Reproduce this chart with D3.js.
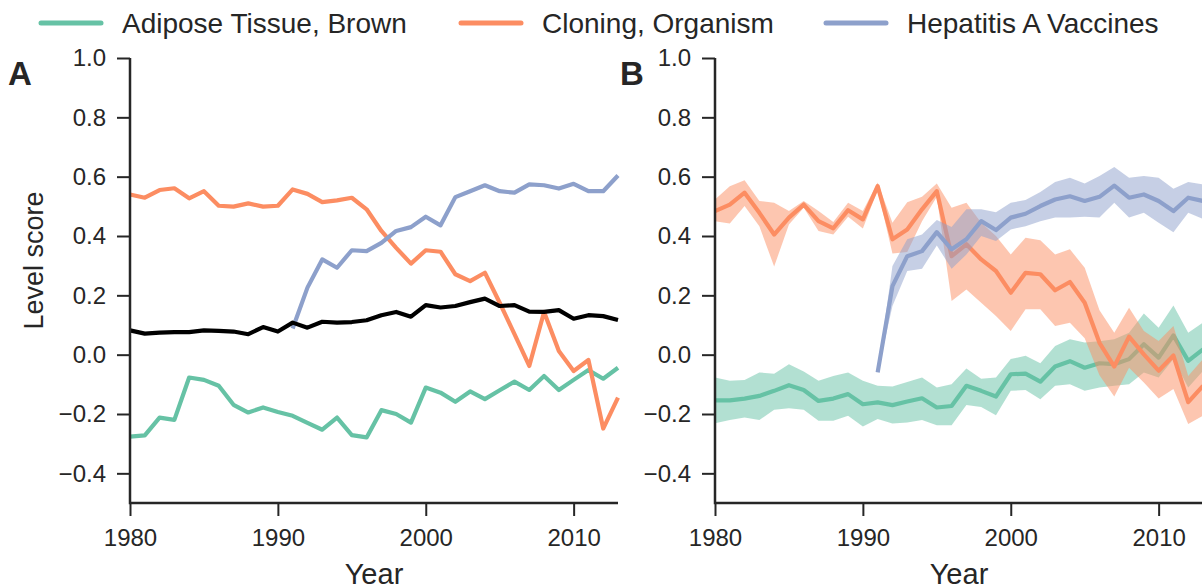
<!DOCTYPE html>
<html>
<head>
<meta charset="utf-8">
<script src="https://cdn.jsdelivr.net/npm/d3@7"></script>
<style>
  body { margin: 0; background: #fff; }
  svg { display: block; font-family: "Liberation Sans", Arial, sans-serif; }
</style>
</head>
<body>
<svg id="chart" width="1202" height="588"></svg>
<script>
// years on the x axis
const years = [1980,1981,1982,1983,1984,1985,1986,1987,1988,1989,1990,1991,1992,1993,1994,1995,1996,
               1997,1998,1999,2000,2001,2002,2003,2004,2005,2006,2007,2008,2009,2010,2011,2012,2013];
const yTicks = [-0.4, -0.2, 0.0, 0.2, 0.4, 0.6, 0.8, 1.0];
const xTicks = [1980, 1990, 2000, 2010];
const seriesNames = ["Adipose Tissue, Brown", "Cloning, Organism", "Hepatitis A Vaccines"];
const seriesColors = ["#66c2a5", "#fc8d62", "#8da0cb"];

// panel A
const adiposeA = [-0.276,-0.272,-0.212,-0.220,-0.077,-0.085,-0.105,-0.169,-0.195,-0.178,-0.193,-0.206,-0.230,-0.253,-0.212,-0.271,-0.279,
                  -0.187,-0.200,-0.229,-0.111,-0.128,-0.159,-0.124,-0.150,-0.120,-0.091,-0.119,-0.072,-0.119,-0.085,-0.052,-0.081,-0.044];
const cloningA = [0.540,0.529,0.555,0.561,0.527,0.551,0.502,0.499,0.510,0.499,0.502,0.557,0.542,0.514,0.520,0.529,0.490,
                  0.417,0.360,0.307,0.352,0.347,0.271,0.248,0.276,0.175,0.069,-0.038,0.144,0.012,-0.055,-0.018,-0.249,-0.145];
const hepatitisA = [null,null,null,null,null,null,null,null,null,null,null,
                  0.088,0.226,0.321,0.293,0.352,0.349,0.377,0.417,0.430,0.465,0.436,0.531,0.551,0.571,0.551,0.546,0.574,0.571,0.560,0.576,0.551,0.551,0.604];
const overallA = [0.082,0.071,0.074,0.076,0.076,0.082,0.080,0.078,0.069,0.093,0.078,0.108,0.091,0.111,0.108,0.110,0.116,
                  0.133,0.144,0.128,0.167,0.159,0.164,0.177,0.189,0.164,0.167,0.145,0.144,0.150,0.121,0.133,0.130,0.117];

// panel B: mean with lower / upper band
const adiposeB = [-0.154,-0.154,-0.148,-0.139,-0.122,-0.103,-0.119,-0.156,-0.148,-0.133,-0.167,-0.161,-0.170,-0.158,-0.147,-0.178,-0.173,
                  -0.105,-0.122,-0.141,-0.066,-0.064,-0.091,-0.040,-0.022,-0.044,-0.029,-0.032,-0.015,0.035,-0.010,0.065,-0.021,0.018];
const adiposeBLow = [-0.231,-0.220,-0.212,-0.220,-0.186,-0.181,-0.186,-0.223,-0.223,-0.206,-0.242,-0.217,-0.232,-0.229,-0.220,-0.238,-0.238,
                  -0.170,-0.176,-0.204,-0.122,-0.119,-0.150,-0.105,-0.100,-0.122,-0.111,-0.105,-0.100,-0.060,-0.077,-0.015,-0.111,-0.055];
const adiposeBHigh = [-0.077,-0.088,-0.085,-0.060,-0.064,-0.032,-0.057,-0.088,-0.072,-0.060,-0.088,-0.105,-0.107,-0.092,-0.077,-0.111,-0.100,
                  -0.047,-0.081,-0.077,-0.015,-0.004,-0.029,0.029,0.052,0.041,0.045,0.052,0.074,0.139,0.091,0.166,0.074,0.108];
const cloningB = [0.484,0.506,0.546,0.478,0.405,0.462,0.506,0.450,0.426,0.487,0.456,0.568,0.389,0.422,0.490,0.551,0.332,
                  0.372,0.321,0.282,0.209,0.276,0.271,0.217,0.245,0.175,0.040,-0.040,0.061,0.001,-0.054,-0.003,-0.160,-0.105];
const cloningBLow = [0.450,0.442,0.501,0.433,0.297,0.439,0.495,0.417,0.405,0.465,0.425,0.555,0.341,0.346,0.450,0.532,0.181,
                  0.220,0.175,0.130,0.080,0.153,0.153,0.097,0.108,0.055,-0.069,-0.141,-0.044,-0.094,-0.148,-0.116,-0.234,-0.206];
const cloningBHigh = [0.523,0.568,0.588,0.518,0.512,0.484,0.518,0.484,0.447,0.512,0.484,0.580,0.445,0.514,0.532,0.577,0.495,
                  0.512,0.445,0.400,0.338,0.394,0.386,0.338,0.355,0.293,0.150,0.074,0.158,0.080,0.046,0.097,-0.072,-0.015];
const hepatitisB = [null,null,null,null,null,null,null,null,null,null,null,
                  -0.060,0.231,0.332,0.349,0.413,0.355,0.389,0.450,0.420,0.462,0.475,0.501,0.523,0.534,0.518,0.532,0.570,0.529,0.540,0.518,0.484,0.529,0.518];
const hepatitisBLow = [null,null,null,null,null,null,null,null,null,null,null,
                  -0.060,0.164,0.282,0.290,0.368,0.290,0.338,0.400,0.383,0.422,0.433,0.450,0.462,0.462,0.465,0.462,0.512,0.462,0.478,0.445,0.413,0.478,0.458];
const hepatitisBHigh = [null,null,null,null,null,null,null,null,null,null,null,
                  -0.060,0.299,0.389,0.405,0.454,0.430,0.490,0.490,0.480,0.512,0.521,0.548,0.582,0.596,0.577,0.602,0.633,0.596,0.602,0.596,0.559,0.582,0.574];

const svg = d3.select("#chart");
const ink = "#262626";
const plotTop = 58, plotBottom = 503, plotW = 488;

const y = d3.scaleLinear().domain([-0.5, 1.0]).range([plotBottom, plotTop]);

function drawPanel(left, letter, lines, bands) {
    const x = d3.scaleLinear().domain([1980, 2013]).range([left, left + plotW]);
    const g = svg.append("g");

    const line = d3.line()
        .defined(d => d.v !== null)
        .x(d => x(d.year))
        .y(d => y(d.v));
    const area = d3.area()
        .defined(d => d.lo !== null)
        .x(d => x(d.year))
        .y0(d => y(d.lo))
        .y1(d => y(d.hi));

    lines.forEach((s, i) => {
        if (bands && bands[i]) {
            const bd = years.map((yr, j) => ({year: yr, lo: bands[i][0][j], hi: bands[i][1][j]}));
            g.append("path")
             .datum(bd)
             .attr("d", area)
             .attr("fill", s.color)
             .attr("fill-opacity", 0.5);
        }
        const ld = years.map((yr, j) => ({year: yr, v: s.values[j]}));
        g.append("path")
         .datum(ld)
         .attr("d", line)
         .attr("fill", "none")
         .attr("stroke", s.color)
         .attr("stroke-width", 4.2)
         .attr("stroke-linejoin", "round");
    });

    // axes
    const yAxis = g.append("g")
        .attr("transform", `translate(${left},0)`)
        .call(d3.axisLeft(y).tickValues(yTicks).tickSize(13).tickPadding(11)
              .tickFormat(d => d3.format(".1f")(d).replace("-", "\u2212")));
    const xAxis = g.append("g")
        .attr("transform", `translate(0,${plotBottom})`)
        .call(d3.axisBottom(x).tickValues(xTicks).tickSize(13).tickPadding(13).tickFormat(d3.format("d")));
    [yAxis, xAxis].forEach(a => {
        a.select(".domain").remove();
        a.selectAll("line").attr("stroke", ink).attr("stroke-width", 2);
        a.selectAll("text").attr("fill", ink).style("font-size", "24px");
    });
    xAxis.selectAll("text").attr("dy", "0.71em");

    g.append("path")
     .attr("d", `M${left},${plotTop}V${plotBottom}H${left + plotW}`)
     .attr("fill", "none")
     .attr("stroke", ink)
     .attr("stroke-width", 2.5);

    g.append("text")
     .attr("x", left + plotW / 2)
     .attr("y", 584)
     .attr("text-anchor", "middle")
     .attr("fill", ink)
     .style("font-size", "29px")
     .text("Year");

    g.append("text")
     .attr("x", letter === "A" ? 8 : 620)
     .attr("y", 85)
     .attr("fill", ink)
     .style("font-size", "33px")
     .style("font-weight", "bold")
     .text(letter);
}

drawPanel(130, "A", [
    {values: adiposeA, color: seriesColors[0]},
    {values: cloningA, color: seriesColors[1]},
    {values: hepatitisA, color: seriesColors[2]},
    {values: overallA, color: "#000000"}
]);

drawPanel(715, "B", [
    {values: adiposeB, color: seriesColors[0]},
    {values: cloningB, color: seriesColors[1]},
    {values: hepatitisB, color: seriesColors[2]}
], [
    [adiposeBLow, adiposeBHigh],
    [cloningBLow, cloningBHigh],
    [hepatitisBLow, hepatitisBHigh]
]);

svg.append("text")
   .attr("transform", `translate(43,${(plotTop + plotBottom) / 2 - 20}) rotate(-90)`)
   .attr("text-anchor", "middle")
   .attr("fill", ink)
   .style("font-size", "27px")
   .text("Level score");

// legend
const legendX = [41, 461, 826];
const legend = svg.append("g");
seriesNames.forEach((name, i) => {
    legend.append("line")
          .attr("x1", legendX[i]).attr("x2", legendX[i] + 60)
          .attr("y1", 23).attr("y2", 23)
          .attr("stroke", seriesColors[i])
          .attr("stroke-width", 5)
          .attr("stroke-linecap", "round");
    legend.append("text")
          .attr("x", legendX[i] + 81)
          .attr("y", 33)
          .attr("fill", ink)
          .style("font-size", "28px")
          .text(name);
});
</script>
</body>
</html>
